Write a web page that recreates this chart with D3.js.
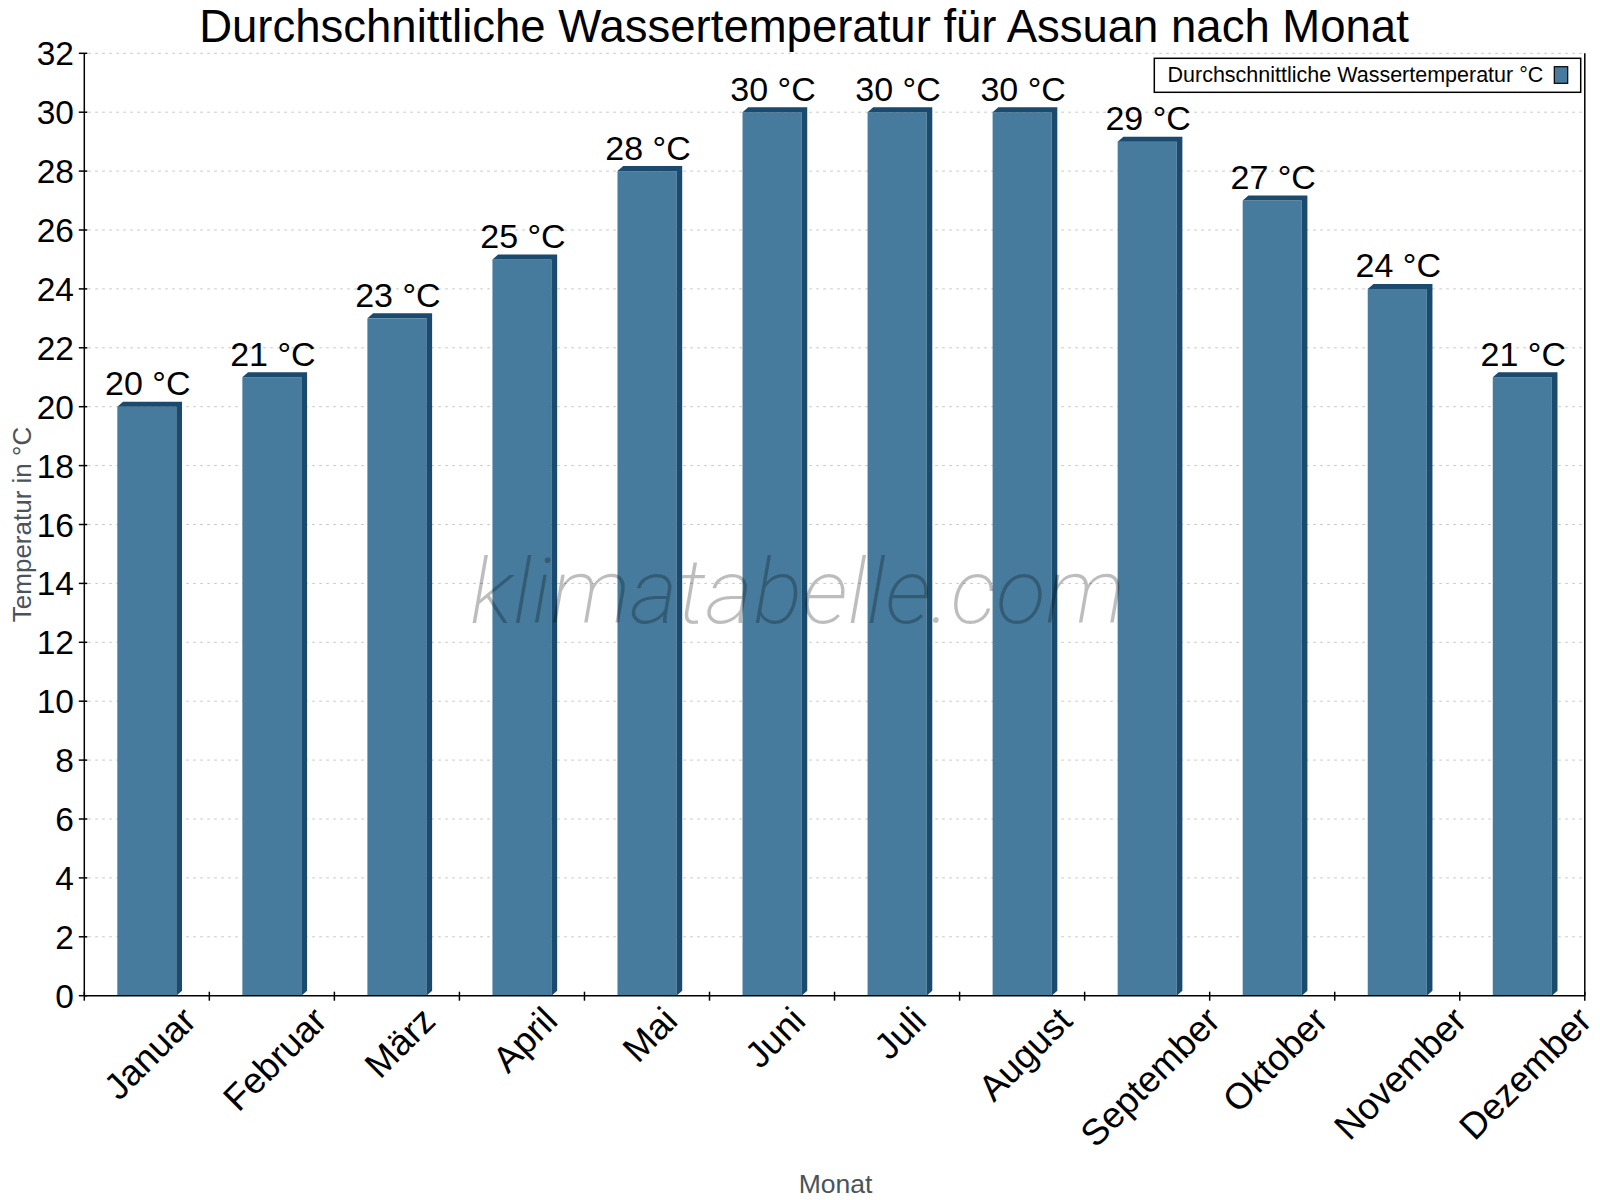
<!DOCTYPE html>
<html>
<head>
<meta charset="utf-8">
<script src="https://cdn.jsdelivr.net/npm/d3@7"></script>
<style>
  body { margin: 0; background: #fff; }
  svg { display: block; font-family: "Liberation Sans", Arial, sans-serif; }
</style>
</head>
<body>
<svg width="1600" height="1200"></svg>
<script>
const MONTHS = ['Januar', 'Februar', 'März', 'April', 'Mai', 'Juni',
  'Juli', 'August', 'September', 'Oktober', 'November', 'Dezember'];
const WATER_TEMP = [20, 21, 23, 25, 28, 30, 30, 30, 29, 27, 24, 21];
const Y_TICKS = d3.range(0, 33, 2);

const TITLE = 'Durchschnittliche Wassertemperatur für Assuan nach Monat';
const SERIES_NAME = 'Durchschnittliche Wassertemperatur °C';

const PLOT = {left: 84.3, right: 1584.8, top: 53.3, bottom: 995.7};
const FRONT = '#467b9d';
const DARK = '#1a4a6e';
const DEPTH_X = 5.7;
const DEPTH_Y = 5;

const svg = d3.select('svg');

const xScale = d3.scaleBand()
  .domain(MONTHS)
  .range([PLOT.left, PLOT.right])
  .paddingInner(0.528)
  .paddingOuter(0.264);

const yScale = d3.scaleLinear()
  .domain([0, 32])
  .range([PLOT.bottom, PLOT.top]);

// grid
svg.append('g')
  .selectAll('line')
  .data(Y_TICKS.filter(t => t > 0))
  .enter()
  .append('line')
  .attr('x1', PLOT.left + 4)
  .attr('x2', PLOT.right)
  .attr('y1', d => yScale(d))
  .attr('y2', d => yScale(d))
  .attr('stroke', '#c4c4c4')
  .attr('stroke-width', 1)
  .attr('stroke-dasharray', '2.5,4.5');

// bars
const bars = svg.append('g')
  .selectAll('g')
  .data(WATER_TEMP.map((v, i) => ({month: MONTHS[i], value: v})))
  .enter()
  .append('g');

bars.append('rect')
  .attr('x', d => xScale(d.month))
  .attr('y', d => yScale(d.value))
  .attr('width', xScale.bandwidth())
  .attr('height', d => yScale(0) - yScale(d.value))
  .attr('fill', FRONT);

bars.append('path')
  .attr('fill', DARK)
  .attr('d', d => {
    const x0 = xScale(d.month), x1 = x0 + xScale.bandwidth();
    const y0 = yScale(d.value), yb = yScale(0);
    return `M${x0},${y0}L${x0 + DEPTH_X},${y0 - DEPTH_Y}L${x1 + DEPTH_X},${y0 - DEPTH_Y}` +
      `L${x1 + DEPTH_X},${yb - DEPTH_Y}L${x1},${yb}L${x1},${y0}Z`;
  });

bars.append('text')
  .attr('x', d => xScale(d.month) + xScale.bandwidth() / 2 + 1)
  .attr('y', d => yScale(d.value) - 11.5)
  .attr('text-anchor', 'middle')
  .attr('font-size', 34)
  .attr('fill', '#000')
  .text(d => `${d.value} °C`);

// y axis
const yAxis = svg.append('g');
yAxis.append('line')
  .attr('x1', PLOT.left).attr('x2', PLOT.left)
  .attr('y1', PLOT.top).attr('y2', PLOT.bottom)
  .attr('stroke', '#000').attr('stroke-width', 1.5);
yAxis.selectAll('.tick')
  .data(Y_TICKS)
  .enter()
  .append('line')
  .attr('x1', PLOT.left - 5.5).attr('x2', PLOT.left + 3)
  .attr('y1', d => yScale(d)).attr('y2', d => yScale(d))
  .attr('stroke', '#000').attr('stroke-width', 1.5);
yAxis.selectAll('text')
  .data(Y_TICKS)
  .enter()
  .append('text')
  .attr('x', 74)
  .attr('y', d => yScale(d))
  .attr('dy', '0.36em')
  .attr('text-anchor', 'end')
  .attr('font-size', 33.5)
  .text(d => d);

// right border
svg.append('line')
  .attr('x1', PLOT.right).attr('x2', PLOT.right)
  .attr('y1', PLOT.top).attr('y2', PLOT.bottom)
  .attr('stroke', '#000').attr('stroke-width', 1.5);

// x axis
const xAxis = svg.append('g');
xAxis.append('line')
  .attr('x1', PLOT.left).attr('x2', PLOT.right)
  .attr('y1', PLOT.bottom).attr('y2', PLOT.bottom)
  .attr('stroke', '#000').attr('stroke-width', 1.5);
const step = xScale.step();
xAxis.selectAll('.tick')
  .data(d3.range(MONTHS.length + 1))
  .enter()
  .append('line')
  .attr('x1', i => PLOT.left + i * step).attr('x2', i => PLOT.left + i * step)
  .attr('y1', PLOT.bottom - 4).attr('y2', PLOT.bottom + 5)
  .attr('stroke', '#000').attr('stroke-width', 1.5);

const xLabels = xAxis.selectAll('.xl')
  .data(MONTHS)
  .enter()
  .append('text')
  .attr('text-anchor', 'middle')
  .attr('dominant-baseline', 'central')
  .attr('font-size', 36.5)
  .text(d => d);
xLabels.each(function (d) {
  const len = this.getComputedTextLength();
  const cx = xScale(d) + xScale.bandwidth() / 2 + 3;
  const cy = 1004 + 0.7071 * (len + 28) / 2;
  d3.select(this)
    .attr('x', cx).attr('y', cy)
    .attr('transform', `rotate(-45, ${cx}, ${cy})`);
});

// watermark on top of the bars
svg.append('text')
  .attr('x', 470)
  .attr('y', 623)
  .attr('textLength', 655)
  .attr('lengthAdjust', 'spacingAndGlyphs')
  .attr('font-family', 'Roboto, "Open Sans", sans-serif')
  .attr('font-weight', 200)
  .attr('font-style', 'italic')
  .attr('font-size', 91)
  .attr('fill', 'rgba(0,0,0,0.26)')
  .text('klimatabelle.com');

// axis titles
svg.append('text')
  .attr('x', (PLOT.left + PLOT.right) / 2 + 1)
  .attr('y', 1193)
  .attr('text-anchor', 'middle')
  .attr('font-size', 26.5)
  .attr('fill', '#4a535c')
  .text('Monat');

svg.append('text')
  .attr('transform', `translate(22, ${(PLOT.top + PLOT.bottom) / 2}) rotate(-90)`)
  .attr('text-anchor', 'middle')
  .attr('dominant-baseline', 'central')
  .attr('font-size', 26)
  .attr('fill', '#4a535c')
  .text('Temperatur in °C');

// title
svg.append('text')
  .attr('x', 804)
  .attr('y', 41.5)
  .attr('text-anchor', 'middle')
  .attr('font-size', 45.5)
  .attr('fill', '#000')
  .text(TITLE);

// legend
const legend = svg.append('g');
legend.append('rect')
  .attr('x', 1154.3).attr('y', 58.3)
  .attr('width', 426.4).attr('height', 34)
  .attr('fill', '#fff')
  .attr('stroke', '#000').attr('stroke-width', 1.5);
legend.append('text')
  .attr('x', 1167.5).attr('y', 82.3)
  .attr('font-size', 21.5)
  .text(SERIES_NAME);
legend.append('rect')
  .attr('x', 1554.3).attr('y', 66.7)
  .attr('width', 13.4).attr('height', 16.6)
  .attr('fill', FRONT)
  .attr('stroke', '#000').attr('stroke-width', 1.2);
</script>
</body>
</html>
